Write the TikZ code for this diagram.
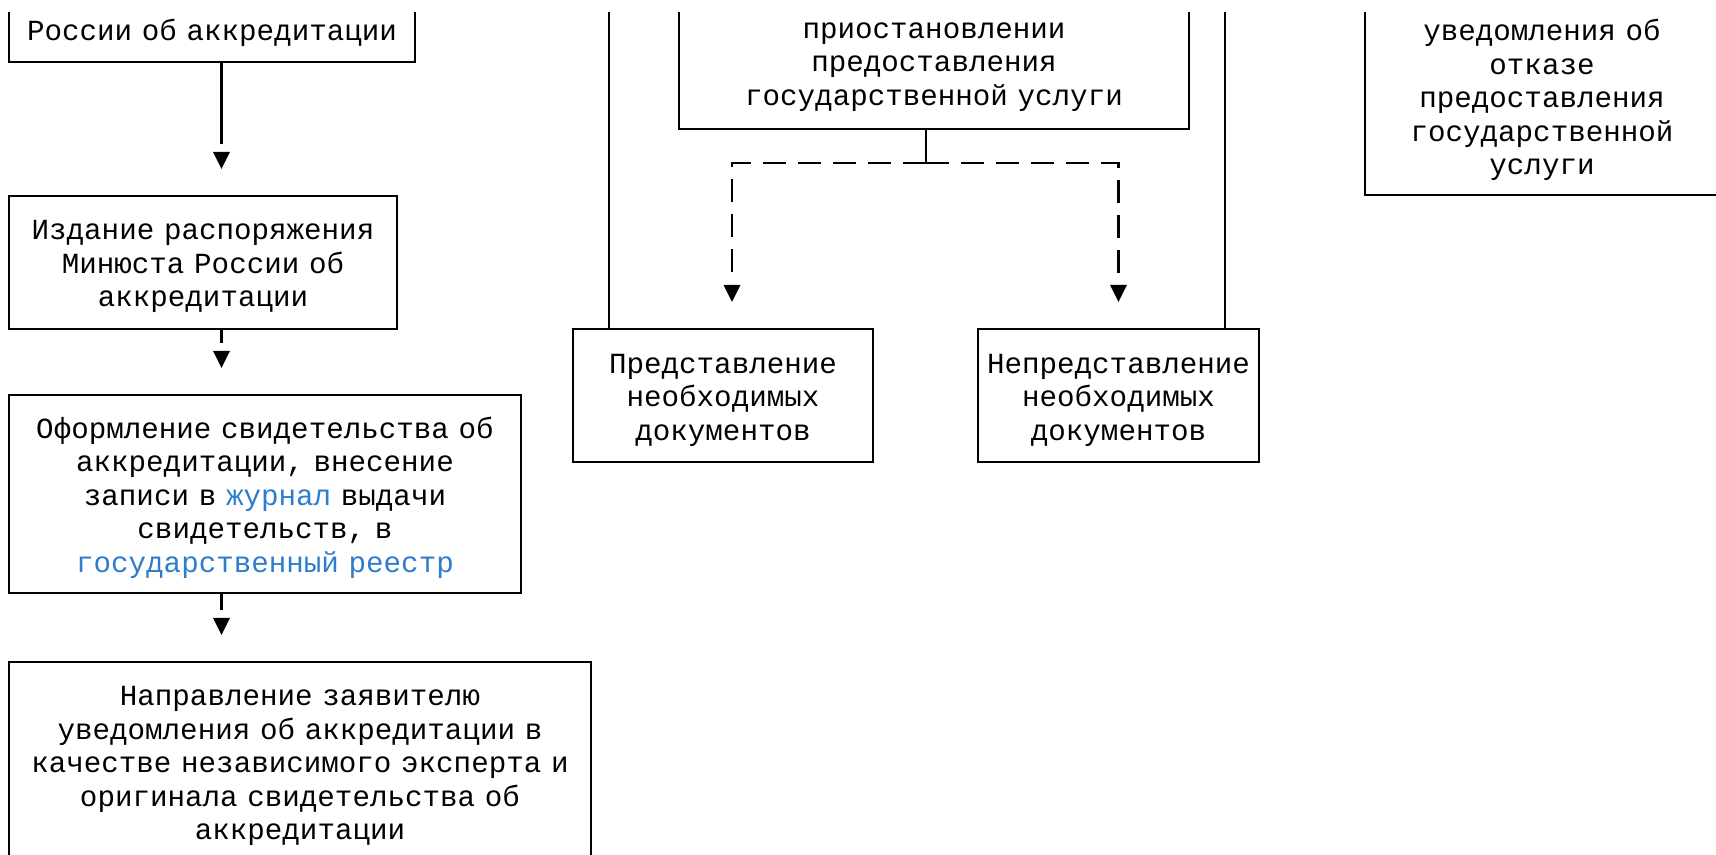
\documentclass[tikz,border=0pt]{standalone}
\usepackage{fontspec}
\usepackage{xcolor}
\usepackage{tikz}
\usetikzlibrary{arrows.meta}
\usetikzlibrary{decorations.markings}
\newfontfamily\boxfont{Liberation Mono}
\definecolor{linkblue}{RGB}{46,124,204}
\tikzset{
  block/.style={draw, line width=1.1pt, inner sep=0pt, align=center,
    font=\boxfont\fontsize{14.6pt}{16.75pt}\selectfont,
    execute at begin node={\rule{0pt}{14.5pt}},
    execute at end node={\rule[-3.5pt]{0pt}{3.5pt}}},
  link/.style={line width=1.1pt},
  flow/.style={link, shorten >=25.5pt,
    postaction={decorate, decoration={markings,
      mark=at position -13pt with {\arrow{Triangle[length=8.5pt,width=8.5pt,line width=0pt]}}}}},
  dashflow/.style={flow, dash pattern=on 11.5pt off 6pt}
}
\begin{document}
\begin{tikzpicture}[x=0.5pt,y=-0.5pt]
\useasboundingbox (0,0) rectangle (1716,855);
\clip (0,13) rectangle (1716,855);
\node[block, text width=203pt, minimum height=32pt] (decision) at (212,30) {России об аккредитации};
\node[block, text width=194pt, minimum height=66.5pt] (order) at (203,262.5) {Издание распоряжения\\Минюста России об\\аккредитации};
\node[block, text width=256pt, minimum height=99pt] (certificate) at (265,494) {Оформление свидетельства об\\аккредитации, внесение\\записи в \textcolor{linkblue}{журнал} выдачи\\свидетельств, в\\\textcolor{linkblue}{государственный реестр}};
\node[block, text width=291pt, minimum height=99.5pt] (notice) at (300,761.5) {Направление заявителю\\уведомления об аккредитации в\\качестве независимого эксперта и\\оригинала свидетельства об\\аккредитации};
\node[block, text width=255pt, minimum height=68pt] (suspend) at (934,61) {приостановлении\\предоставления\\государственной услуги};
\node[block, text width=177pt, minimum height=98pt] (refusal) at (1542,97) {уведомления об\\отказе\\предоставления\\государственной\\услуги};
\node[block, text width=150pt, minimum height=66.5pt] (given) at (723,395.5) {Представление\\необходимых\\документов};
\node[block, text width=140.5pt, minimum height=66.5pt] (missing) at (1118.5,395.5) {Непредставление\\необходимых\\документов};
\coordinate (spine) at (221.5,0);
\coordinate (split) at (926,163);
\coordinate (inGiven) at (609,0);
\coordinate (inMissing) at (1225,0);
\draw[flow] (spine |- decision.south) -- (spine |- order.north);
\draw[flow] (spine |- order.south) -- (spine |- certificate.north);
\draw[flow] (spine |- certificate.south) -- (spine |- notice.north);
\draw[link] (split |- suspend.south) -- (split);
\draw[dashflow] (split) -| ([xshift=4.5pt]given.north);
\draw[dashflow] (split) -| (missing.north);
\draw[link]
(inGiven) edge (inGiven |- given.north)
(inMissing) edge (inMissing |- missing.north);
\end{tikzpicture}
\end{document}
